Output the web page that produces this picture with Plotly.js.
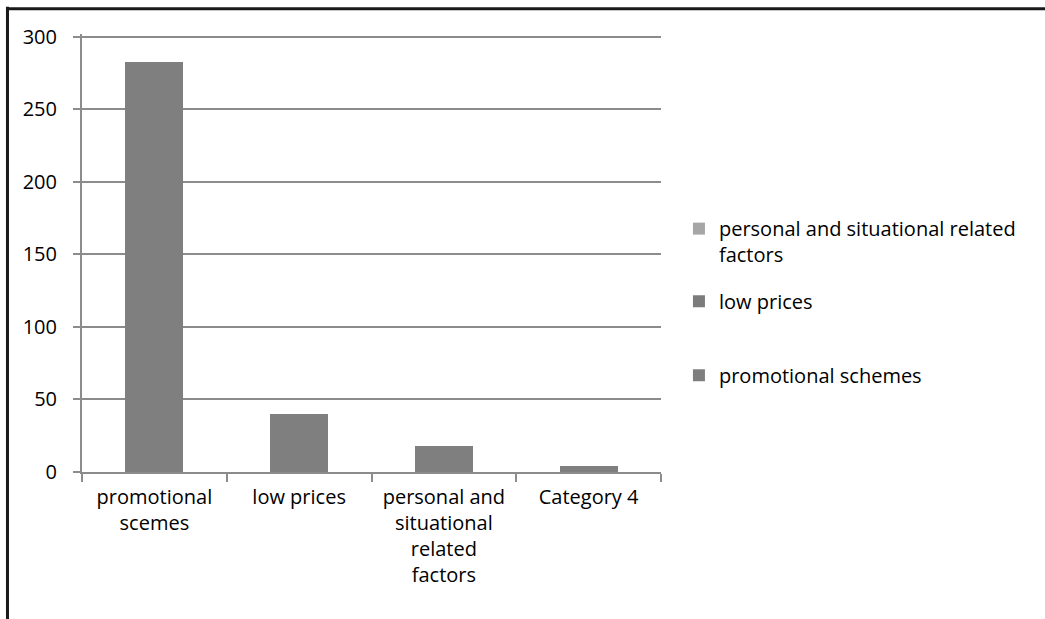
<!DOCTYPE html>
<html>
<head>
<meta charset="utf-8">
<script src="https://cdn.plot.ly/plotly-3.0.1.min.js"></script>
<style>
  html, body { margin: 0; padding: 0; background: #ffffff; }
  #chart { width: 1045px; height: 619px; }
</style>
</head>
<body>
<div id="chart"></div>
<script>
var categories = ["promotional<br>scemes", "low prices", "personal and<br>situational<br>related<br>factors", "Category 4"];
var promotionalSchemes = [283, 40, 18, 4];
var lowPrices = [0, 0, 0, 0];
var personalFactors = [0, 0, 0, 0];
var yTicks = [0, 50, 100, 150, 200, 250, 300];

var FONT = "'Open Sans', Lato, sans-serif";

var traces = [
  {
    type: "bar", name: "promotional schemes", x: categories, y: promotionalSchemes,
    marker: { color: "#7f7f7f", line: { width: 0 } }, legend: "legend3", hoverinfo: "x+y"
  },
  {
    type: "bar", name: "low prices", x: categories, y: lowPrices,
    marker: { color: "#7c7c7c", line: { width: 0 } }, legend: "legend2", hoverinfo: "x+y"
  },
  {
    type: "bar", name: "personal and situational related<br>factors", x: categories, y: personalFactors,
    marker: { color: "#a6a6a6", line: { width: 0 } }, legend: "legend", hoverinfo: "x+y"
  }
];

var legendBase = {
  xanchor: "left", yanchor: "middle", bgcolor: "rgba(0,0,0,0)", borderwidth: 0,
  font: { family: FONT, size: 20, color: "#000000" }
};

var layout = {
  width: 1045, height: 619,
  paper_bgcolor: "#ffffff", plot_bgcolor: "#ffffff",
  margin: { l: 82, r: 384, t: 34, b: 147, pad: 0 },
  barmode: "stack",
  bargap: 0.6,
  font: { family: FONT, size: 20, color: "#000000" },
  showlegend: true,
  legend: Object.assign({}, legendBase, { x: 1.031, y: 0.526, valign: "top" }),
  legend2: Object.assign({}, legendBase, { x: 1.031, y: 0.39 }),
  legend3: Object.assign({}, legendBase, { x: 1.031, y: 0.221 }),
  xaxis: {
    type: "category",
    showline: true, linecolor: "#8c8c8c", linewidth: 2,
    ticks: "outside", tickson: "boundaries", ticklen: 8, tickwidth: 2, tickcolor: "#8c8c8c",
    showgrid: false, zeroline: false,
    ticklabelstandoff: 6,
    tickfont: { family: FONT, size: 20, color: "#000000" },
    tickangle: 0
  },
  yaxis: {
    range: [0, 302], tickvals: yTicks,
    showline: true, linecolor: "#8c8c8c", linewidth: 2,
    ticks: "outside", ticklen: 7, tickwidth: 2, tickcolor: "#8c8c8c",
    showgrid: true, gridcolor: "#8c8c8c", gridwidth: 2,
    zeroline: false,
    ticklabelstandoff: 12,
    tickfont: { family: FONT, size: 20, color: "#000000" }
  },
  shapes: [
    { type: "line", xref: "paper", yref: "paper", x0: -0.1287, x1: 1.7, y0: 1.0575, y1: 1.0575,
      line: { color: "#1a1a1a", width: 3 } },
    { type: "line", xref: "paper", yref: "paper", x0: -0.1287, x1: -0.1287, y0: 1.062, y1: -0.35,
      line: { color: "#1a1a1a", width: 3 } }
  ]
};

Plotly.newPlot("chart", traces, layout, { displayModeBar: false, staticPlot: true });
</script>
</body>
</html>
